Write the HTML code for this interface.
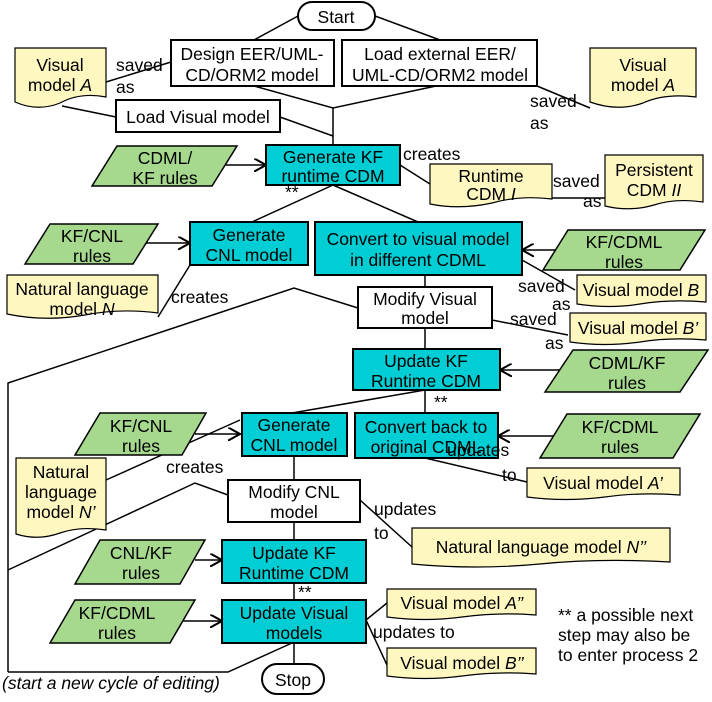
<!DOCTYPE html>
<html><head><meta charset="utf-8"><style>
body{margin:0;background:#fff}
svg{display:block}
text{font-family:"Liberation Sans",sans-serif;font-size:17.5px;fill:#000}
.w{fill:#fff;stroke:#000;stroke-width:2}
.c{fill:#00cdd4;stroke:#000;stroke-width:2}
.g{fill:#a6d98e;stroke:#000;stroke-width:1.5}
.y{fill:#fff7c0;stroke:#000;stroke-width:1.2}
.l{stroke:#000;stroke-width:1.5;fill:none}
</style></head><body>
<svg width="712" height="702" viewBox="0 0 712 702">
<defs><marker id="a" viewBox="0 0 10 10" refX="9" refY="5" markerWidth="9" markerHeight="9" orient="auto"><path d="M0,0 L9,5 L0,10" fill="none" stroke="#000" stroke-width="1.5"/></marker></defs>
<g class="l">
<path d="M298,16 L254,40 M375,16 L440,40"/>
<path d="M254,86 L333,108 L436,86 M333,108 L333,145 M280,117 L333,136"/>
<path d="M106,82 L171,62 M62,106 L116,117"/>
<path d="M537,86 L590,108"/>
<path d="M400,165 L430,184 M552,198 L605,198"/>
<path d="M333,185 L252,222 M333,185 L418,222"/>
<path d="M158,317 L190,265"/>
<path d="M425,275 L425,287"/>
<path d="M522,260 L575,290 M492,320 L568,335"/>
<path d="M8,672 L8,383 L294,288 L358,308"/>
<path d="M425,328 L425,349"/>
<path d="M425,390 L292,413 M425,390 L425,413"/>
<path d="M106,480 L240,420"/>
<path d="M8,570 L195,483 L228,495"/>
<path d="M294,456 L294,480 M294,522 L294,540 M294,583 L294,600 M294,643 L294,664"/>
<path d="M425,458 L527,482"/>
<path d="M360,500 L412,547"/>
<path d="M366,620 L387,603 M366,620 L387,665"/>
<path d="M8,672 L228,672 L292,643"/>
</g>
<g class="l" marker-end="url(#a)">
<path d="M225,165 L266,165"/><path d="M145,243 L190,243"/><path d="M560,250 L522,250"/>
<path d="M560,370 L500,370"/><path d="M195,434 L240,434"/><path d="M556,436 L498,436"/>
<path d="M195,560 L222,560"/><path d="M180,621 L222,621"/>
</g>
<rect x="298" y="2" width="77" height="28" rx="14" class="w"/><text x="336" y="23" text-anchor="middle">Start</text>
<rect x="262" y="664" width="62" height="30" rx="15" class="w"/><text x="293" y="686" text-anchor="middle">Stop</text>
<rect x="171" y="40" width="163" height="46" class="w"/><text x="252" y="60" text-anchor="middle">Design EER/UML-</text><text x="252" y="81" text-anchor="middle">CD/ORM2 model</text>
<rect x="342" y="40" width="195" height="46" class="w"/><text x="440" y="60" text-anchor="middle">Load external EER/</text><text x="440" y="81" text-anchor="middle">UML-CD/ORM2 model</text>
<rect x="116" y="100" width="164" height="32" class="w"/><text x="198" y="123" text-anchor="middle">Load Visual model</text>
<rect x="358" y="287" width="134" height="41" class="w"/><text x="425" y="305" text-anchor="middle">Modify Visual</text><text x="425" y="324" text-anchor="middle">model</text>
<rect x="228" y="480" width="132" height="42" class="w"/><text x="294" y="498" text-anchor="middle">Modify CNL</text><text x="294" y="518" text-anchor="middle">model</text>
<rect x="266" y="145" width="134" height="40" class="c"/><text x="333" y="163" text-anchor="middle">Generate KF</text><text x="333" y="182" text-anchor="middle">runtime CDM</text>
<rect x="190" y="222" width="118" height="43" class="c"/><text x="249" y="241" text-anchor="middle">Generate</text><text x="249" y="261" text-anchor="middle">CNL model</text>
<rect x="315" y="222" width="207" height="53" class="c"/><text x="418" y="245" text-anchor="middle">Convert to visual model</text><text x="418" y="266" text-anchor="middle">in different CDML</text>
<rect x="353" y="349" width="147" height="41" class="c"/><text x="426" y="367" text-anchor="middle">Update KF</text><text x="426" y="387" text-anchor="middle">Runtime CDM</text>
<rect x="242" y="413" width="105" height="43" class="c"/><text x="294" y="431" text-anchor="middle">Generate</text><text x="294" y="451" text-anchor="middle">CNL model</text>
<rect x="355" y="413" width="143" height="45" class="c"/><text x="426" y="433" text-anchor="middle">Convert back to</text><text x="426" y="453" text-anchor="middle">original CDML</text>
<rect x="222" y="540" width="144" height="43" class="c"/><text x="294" y="559" text-anchor="middle">Update KF</text><text x="294" y="579" text-anchor="middle">Runtime CDM</text>
<rect x="222" y="600" width="144" height="43" class="c"/><text x="294" y="619" text-anchor="middle">Update Visual</text><text x="294" y="639" text-anchor="middle">models</text>
<polygon points="117,146 237,146 212,186 92,186" class="g"/><text x="165" y="164" text-anchor="middle">CDML/</text><text x="165" y="184" text-anchor="middle">KF rules</text>
<polygon points="50,224 158,224 133,264 25,264" class="g"/><text x="92" y="242" text-anchor="middle">KF/CNL</text><text x="92" y="262" text-anchor="middle">rules</text>
<polygon points="568,230 705,230 680,270 543,270" class="g"/><text x="624" y="248" text-anchor="middle">KF/CDML</text><text x="624" y="268" text-anchor="middle">rules</text>
<polygon points="573,350 708,350 680,392 545,392" class="g"/><text x="627" y="369" text-anchor="middle">CDML/KF</text><text x="627" y="389" text-anchor="middle">rules</text>
<polygon points="100,413 206,413 182,455 75,455" class="g"/><text x="141" y="432" text-anchor="middle">KF/CNL</text><text x="141" y="452" text-anchor="middle">rules</text>
<polygon points="567,414 700,414 673,458 540,458" class="g"/><text x="620" y="433" text-anchor="middle">KF/CDML</text><text x="620" y="453" text-anchor="middle">rules</text>
<polygon points="100,540 205,540 180,584 75,584" class="g"/><text x="141" y="559" text-anchor="middle">CNL/KF</text><text x="141" y="579" text-anchor="middle">rules</text>
<polygon points="75,600 195,600 170,643 50,643" class="g"/><text x="117" y="619" text-anchor="middle">KF/CDML</text><text x="117" y="639" text-anchor="middle">rules</text>
<path d="M15,48 H106 V97 Q80,92 60,103 Q38,112 15,102 Z" class="y"/><text x="60" y="71" text-anchor="middle">Visual</text><text x="60" y="91" text-anchor="middle">model <tspan font-style="italic">A</tspan></text>
<path d="M590,48 H696 V97 Q665,93 643,103 Q618,112 590,102 Z" class="y"/><text x="643" y="71" text-anchor="middle">Visual</text><text x="643" y="91" text-anchor="middle">model <tspan font-style="italic">A</tspan></text>
<path d="M430,164 H552 V199 Q520,195 492,203 Q460,210 430,204 Z" class="y"/><text x="491" y="182" text-anchor="middle">Runtime</text><text x="491" y="200" text-anchor="middle">CDM <tspan font-style="italic">I</tspan></text>
<path d="M605,155 H703 V202 Q675,198 654,205 Q630,212 605,206 Z" class="y"/><text x="654" y="176" text-anchor="middle">Persistent</text><text x="654" y="196" text-anchor="middle">CDM <tspan font-style="italic">II</tspan></text>
<path d="M7,275 H158 V313 Q120,308 85,315 Q45,322 7,314 Z" class="y"/><text x="82" y="295" text-anchor="middle">Natural language</text><text x="82" y="315" text-anchor="middle">model <tspan font-style="italic">N</tspan></text>
<path d="M577,275 H706 V302 Q670,299 640,304 Q610,309 577,304 Z" class="y"/><text x="641" y="296" text-anchor="middle">Visual model <tspan font-style="italic">B</tspan></text>
<path d="M570,313 H706 V340 Q670,337 640,342 Q605,347 570,342 Z" class="y"/><text x="638" y="334" text-anchor="middle">Visual model <tspan font-style="italic">B’</tspan></text>
<path d="M16,458 H106 V530 Q80,526 60,533 Q38,541 16,534 Z" class="y"/><text x="61" y="478" text-anchor="middle">Natural</text><text x="61" y="498" text-anchor="middle">language</text><text x="61" y="518" text-anchor="middle">model <tspan font-style="italic">N’</tspan></text>
<path d="M527,468 H680 V495 Q640,492 605,497 Q565,502 527,497 Z" class="y"/><text x="603" y="489" text-anchor="middle">Visual model <tspan font-style="italic">A’</tspan></text>
<path d="M412,528 H670 V562 Q600,558 540,564 Q475,570 412,564 Z" class="y"/><text x="541" y="553" text-anchor="middle">Natural language model <tspan font-style="italic">N’’</tspan></text>
<path d="M387,589 H536 V615 Q500,612 462,617 Q425,622 387,617 Z" class="y"/><text x="462" y="609" text-anchor="middle">Visual model <tspan font-style="italic">A’’</tspan></text>
<path d="M387,648 H536 V674 Q500,671 462,676 Q425,681 387,676 Z" class="y"/><text x="462" y="669" text-anchor="middle">Visual model <tspan font-style="italic">B’’</tspan></text>
<text x="116" y="71">saved</text><text x="116" y="93">as</text>
<text x="530" y="107">saved</text><text x="530" y="129">as</text>
<text x="403" y="160">creates</text>
<text x="553" y="187">saved</text><text x="583" y="207">as</text>
<text x="285" y="198" font-size="12">**</text>
<text x="171" y="303">creates</text>
<text x="518" y="292">saved</text><text x="552" y="310">as</text>
<text x="510" y="325">saved</text><text x="545" y="349">as</text>
<text x="434" y="408" font-size="12">**</text>
<text x="166" y="473">creates</text>
<text x="447" y="456">updates</text><text x="502" y="481">to</text>
<text x="374" y="515">updates</text><text x="374" y="539">to</text>
<text x="298" y="598" font-size="12">**</text>
<text x="373" y="638">updates to</text>
<text x="2" y="689" font-style="italic">(start a new cycle of editing)</text>
<text x="558" y="621" font-size="15">** a possible next</text>
<text x="558" y="641" font-size="15">step may also be</text>
<text x="558" y="661" font-size="15">to enter process 2</text>
</svg>
</body></html>
